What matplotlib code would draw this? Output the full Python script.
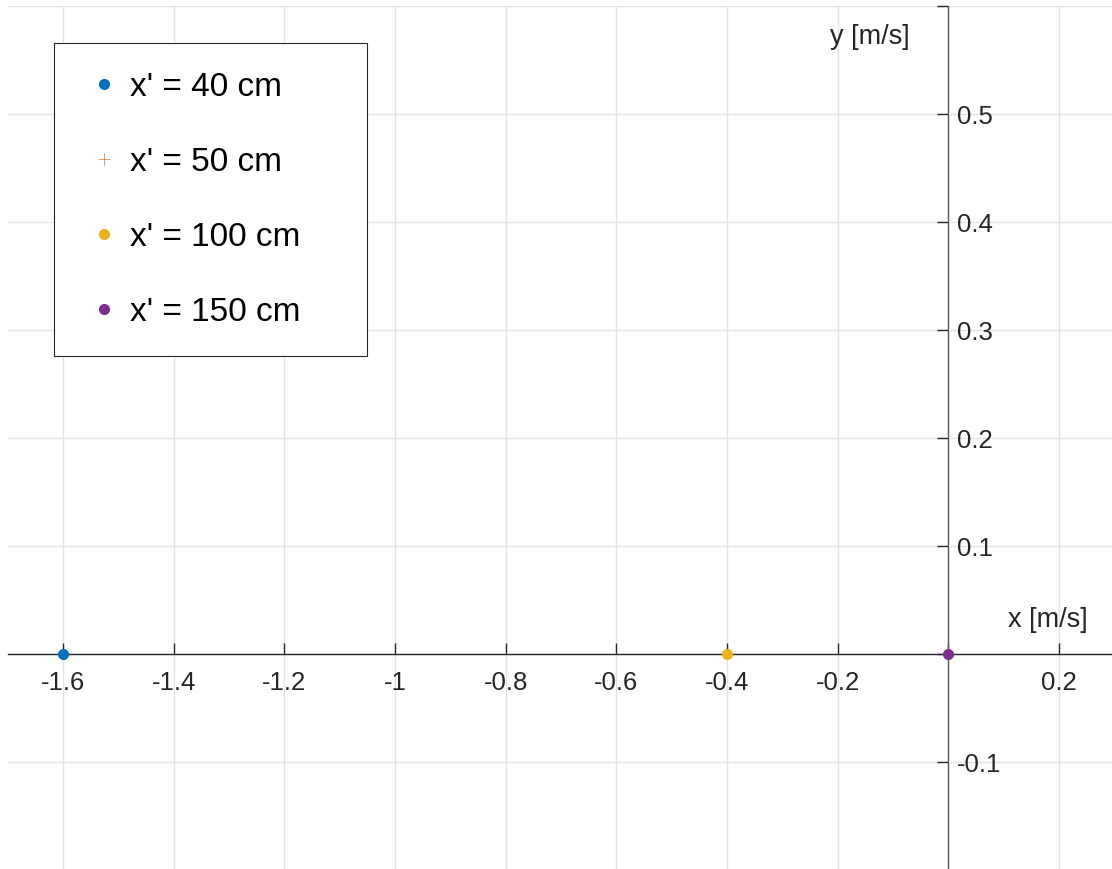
import matplotlib
matplotlib.use('Agg')
import matplotlib.pyplot as plt
import numpy as np

# velocity points for each x' position, in m/s
labels = ["x' = 40 cm", "x' = 50 cm", "x' = 100 cm", "x' = 150 cm"]
x_vals = [-1.6, 0.0, -0.4, 0.0]
y_vals = [0.0, 0.0, 0.0, 0.0]
markers = ['o', '+', 'o', 'o']
colors = ['#0072BD', '#D95319', '#EDB120', '#7E2F8E']

x_ticks = [-1.6, -1.4, -1.2, -1.0, -0.8, -0.6, -0.4, -0.2, 0.0, 0.2]
x_ticklabels = ['-1.6', '-1.4', '-1.2', '-1', '-0.8', '-0.6', '-0.4', '-0.2', '', '0.2']
y_ticks = [-0.2, -0.1, 0.0, 0.1, 0.2, 0.3, 0.4, 0.5, 0.6]
y_ticklabels = ['', '-0.1', '', '0.1', '0.2', '0.3', '0.4', '0.5', '']

AX_COLOR = '#262626'
FS = 18.5

plt.rcParams['font.family'] = ['Liberation Sans', 'DejaVu Sans']

fig = plt.figure(figsize=(11.12, 8.7), dpi=100)
AX_W, AX_H = 1106.6, 864
ax = fig.add_axes([7.7 / 1112, -1 / 870, AX_W / 1112, AX_H / 870])

for xv, yv, m, c, lab in zip(x_vals, y_vals, markers, colors, labels):
    if m == '+':
        ax.plot(xv, yv, linestyle='none', marker=m, color=c, markersize=8,
                markeredgewidth=0.4, label=lab, zorder=3, clip_on=False)
    else:
        ax.plot(xv, yv, linestyle='none', marker=m, color=c, markersize=8,
                markeredgewidth=0, label=lab, zorder=4, clip_on=False)

ax.set_xlim(-1.7, 0.3)
ax.set_ylim(-0.2, 0.6)

# axes crossing at the origin
ax.spines['left'].set_position(('data', 0))
ax.spines['bottom'].set_position(('data', 0))
ax.spines['right'].set_visible(False)
ax.spines['top'].set_visible(False)
ax.spines['left'].set_color('#5a5a5a')
ax.spines['bottom'].set_color(AX_COLOR)
for s in ('left', 'bottom'):
    ax.spines[s].set_linewidth(1.0)
    ax.spines[s].set_zorder(2)

ax.set_xticks(x_ticks)
ax.set_xticklabels(x_ticklabels)
ax.set_yticks(y_ticks)
ax.set_yticklabels(y_ticklabels)

ax.tick_params(axis='x', direction='in', length=8, width=1, color=AX_COLOR,
               labelcolor=AX_COLOR, labelsize=FS, pad=11.5)
ax.tick_params(axis='y', direction='out', length=8, width=1, color=AX_COLOR,
               labelcolor=AX_COLOR, labelsize=FS, pad=-14)
for t in ax.get_yticklabels():
    t.set_horizontalalignment('left')

ax.grid(True, color='#e3e3e3', linewidth=1.0, zorder=0)
ax.set_axisbelow(True)

ax.text(-0.07, 0.572, 'y [m/s]', ha='right', va='center', fontsize=19.5, color=AX_COLOR)
ax.text(0.252, 0.032, 'x [m/s]', ha='right', va='center', fontsize=19.5, color=AX_COLOR)

# fixed-width legend box in the upper left corner
leg = ax.legend(loc='upper left',
                bbox_to_anchor=(46 / AX_W, 1 - 37 / AX_H - 0.01, 313 / AX_W, 0.01),
                mode='expand', borderaxespad=0, fontsize=24, frameon=True,
                fancybox=False, framealpha=1, edgecolor=AX_COLOR,
                handlelength=1.3, handletextpad=0.15, labelspacing=1.32,
                borderpad=0.85)
leg.get_frame().set_linewidth(0.8)

fig.savefig('out.png', dpi=100)
